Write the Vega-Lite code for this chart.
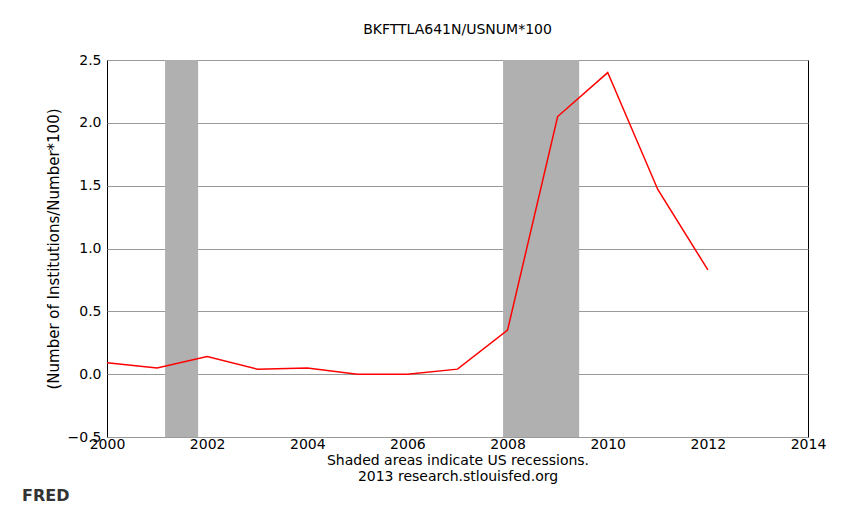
{
  "$schema": "https://vega.github.io/schema/vega-lite/v6.json",
  "autosize": "none",
  "width": 701,
  "height": 377,
  "padding": {"left": 107, "top": 60, "right": 55, "bottom": 94},
  "background": "white",
  "title": {"text": "BKFTTLA641N/USNUM*100", "font": "DejaVu Sans", "fontSize": 14, "fontWeight": "normal", "color": "black", "offset": 16},
  "config": {
    "view": {"stroke": "black", "strokeWidth": 1},
    "axis": {"labelFont": "DejaVu Sans", "titleFont": "DejaVu Sans", "labelFontSize": 14, "titleFontSize": 14, "labelColor": "black", "titleColor": "black", "titleFontWeight": "normal", "domain": false, "tickColor": "black", "labelFlush": false}
  },
  "datasets": {
    "series": [
      {"year": 2000, "value": 0.09},
      {"year": 2001, "value": 0.05},
      {"year": 2002, "value": 0.14},
      {"year": 2003, "value": 0.04},
      {"year": 2004, "value": 0.05},
      {"year": 2005, "value": 0.0},
      {"year": 2006, "value": 0.0},
      {"year": 2007, "value": 0.04},
      {"year": 2008, "value": 0.35},
      {"year": 2009, "value": 2.05},
      {"year": 2010, "value": 2.4},
      {"year": 2011, "value": 1.47},
      {"year": 2012, "value": 0.83}
    ],
    "recessions": [
      {"start": 2001.16, "end": 2001.82},
      {"start": 2007.91, "end": 2009.43}
    ]
  },
  "layer": [
    {
      "data": {"name": "recessions"},
      "mark": {"type": "rect", "color": "#b0b0b0"},
      "encoding": {
        "x": {"field": "start", "type": "quantitative", "scale": {"domain": [2000, 2014], "nice": false},
          "axis": {"values": [2000, 2002, 2004, 2006, 2008, 2010, 2012, 2014], "format": "d", "grid": false, "ticks": false, "labelPadding": 0, "title": ["Shaded areas indicate US recessions.", "2013 research.stlouisfed.org"], "titlePadding": 2}},
        "x2": {"field": "end"}
      }
    },
    {
      "data": {"name": "series"},
      "mark": {"type": "line", "color": "red", "strokeWidth": 1.5},
      "encoding": {
        "x": {"field": "year", "type": "quantitative"},
        "y": {"field": "value", "type": "quantitative", "scale": {"domain": [-0.5, 2.5], "nice": false},
          "axis": {"values": [-0.5, 0, 0.5, 1, 1.5, 2, 2.5], "format": ".1f", "grid": true, "gridColor": "#999999", "ticks": false, "labelPadding": 6, "title": "(Number of Institutions/Number*100)", "titleFontSize": 15, "titlePadding": 6}}
      }
    },
    {
      "data": {"values": [{"t": "FRED"}]},
      "mark": {"type": "text", "text": "FRED", "font": "DejaVu Sans", "fontSize": 16, "fontWeight": "bold", "color": "#333333", "align": "left", "dx": -85, "dy": 59},
      "encoding": {"x": {"datum": 2000, "type": "quantitative"}, "y": {"datum": -0.5, "type": "quantitative"}}
    }
  ]
}
